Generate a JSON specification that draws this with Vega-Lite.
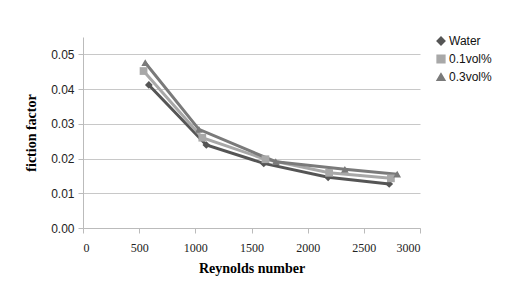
{
  "$schema": "https://vega.github.io/schema/vega-lite/v6.json",
  "width": 337,
  "height": 191,
  "autosize": "none",
  "padding": {"left": 83, "top": 37, "right": 96, "bottom": 78},
  "background": "white",
  "config": {"view": {"stroke": null}},
  "data": {"values": [
    {"series": "Water", "Re": 586, "f": 0.0412},
    {"series": "Water", "Re": 1098, "f": 0.0239},
    {"series": "Water", "Re": 1609, "f": 0.0186},
    {"series": "Water", "Re": 2182, "f": 0.0146},
    {"series": "Water", "Re": 2726, "f": 0.0127},
    {"series": "0.1vol%", "Re": 539, "f": 0.0452},
    {"series": "0.1vol%", "Re": 1062, "f": 0.026},
    {"series": "0.1vol%", "Re": 1624, "f": 0.0198},
    {"series": "0.1vol%", "Re": 2191, "f": 0.0159},
    {"series": "0.1vol%", "Re": 2741, "f": 0.0143},
    {"series": "0.3vol%", "Re": 554, "f": 0.0476},
    {"series": "0.3vol%", "Re": 1032, "f": 0.0284},
    {"series": "0.3vol%", "Re": 1716, "f": 0.0191},
    {"series": "0.3vol%", "Re": 2331, "f": 0.0169},
    {"series": "0.3vol%", "Re": 2797, "f": 0.0155}
  ]},
  "encoding": {
    "x": {"field": "Re", "type": "quantitative",
      "scale": {"domain": [0, 3000], "nice": false},
      "axis": {"values": [0, 500, 1000, 1500, 2000, 2500, 3000], "format": "d", "grid": false,
        "title": "Reynolds number", "titleFont": "Liberation Serif", "titleFontSize": 14, "titleFontWeight": "bold", "titleColor": "#000", "titlePadding": 8,
        "labelFont": "Liberation Serif", "labelFontSize": 12, "labelColor": "#222", "labelPadding": 9,
        "domainColor": "#bbb", "tickColor": "#bbb", "tickSize": 5}},
    "y": {"field": "f", "type": "quantitative",
      "scale": {"domain": [0, 0.055], "nice": false},
      "axis": {"values": [0, 0.01, 0.02, 0.03, 0.04, 0.05], "format": ".2f", "grid": true, "gridColor": "#c8c8c8",
        "title": "fiction factor", "titleFont": "Liberation Serif", "titleFontSize": 14, "titleFontWeight": "bold", "titleColor": "#000", "titlePadding": 12,
        "labelFont": "Liberation Sans", "labelFontSize": 12, "labelColor": "#222", "labelPadding": 4,
        "domainColor": "#bbb", "tickColor": "#bbb", "tickSize": 5}},
    "color": {"field": "series", "type": "nominal",
      "scale": {"domain": ["Water", "0.1vol%", "0.3vol%"], "range": ["#555555", "#a8a8a8", "#7a7a7a"]},
      "legend": {"orient": "none", "legendX": 352, "legendY": -2, "title": null,
        "labelFont": "Liberation Sans", "labelFontSize": 12, "labelColor": "#111", "rowPadding": 4, "symbolSize": 60, "labelOffset": 2}},
    "shape": {"field": "series", "type": "nominal",
      "scale": {"domain": ["Water", "0.1vol%", "0.3vol%"], "range": ["diamond", "square", "triangle-up"]},
      "legend": null}
  },
  "layer": [
    {"mark": {"type": "line", "strokeWidth": 3}, "encoding": {"detail": {"field": "series"}}},
    {"mark": {"type": "point", "filled": true, "size": 60, "opacity": 1}}
  ]
}
